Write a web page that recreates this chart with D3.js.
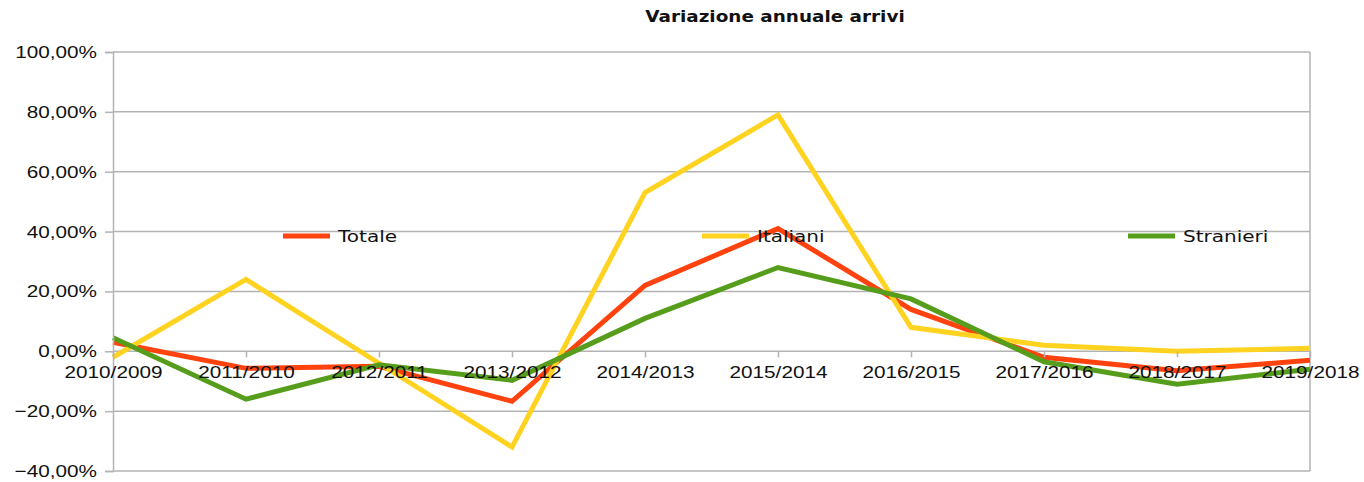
<!DOCTYPE html>
<html>
<head>
<meta charset="utf-8">
<script src="https://cdn.jsdelivr.net/npm/d3@7"></script>
<style>
  body { margin: 0; background: #fff; }
  .tick text { font-family: "Liberation Sans", Arial, sans-serif; }
</style>
</head>
<body>
<div id="chart"></div>
<script>
// anni a confronto
var categories = ["2010/2009", "2011/2010", "2012/2011", "2013/2012", "2014/2013",
                  "2015/2014", "2016/2015", "2017/2016", "2018/2017", "2019/2018"];
var totale    = [3.0, -5.7, -5.0, -16.7, 22.0, 41.0, 14.0, -2.0, -6.5, -3.0];
var italiani  = [-2.0, 24.0, -4.0, -32.0, 53.0, 79.0, 8.0, 2.0, 0.0, 1.0];
var stranieri = [4.5, -16.0, -4.5, -9.7, 11.0, 28.0, 17.5, -3.5, -11.0, -6.0];
var yTicks = [-40, -20, 0, 20, 40, 60, 80, 100];
var seriesNames = ["Totale", "Italiani", "Stranieri"];
var colors = ["#ff420e", "#ffd320", "#579d1c"];

var W = 1364, H = 482;
var margin = {top: 52, right: 54, bottom: 11, left: 113};
var width = W - margin.left - margin.right;
var height = H - margin.top - margin.bottom;
var sx = 1.22; // il grafico originale è stirato in orizzontale

var svg = d3.select("#chart").append("svg")
  .attr("width", W).attr("height", H);

var g = svg.append("g")
  .attr("transform", "translate(" + margin.left + "," + margin.top + ")");

var x = d3.scalePoint().domain(categories).range([0, width]);
var y = d3.scaleLinear().domain([-40, 100]).range([height, 0]);

// griglia orizzontale
g.selectAll(".grid").data(yTicks).enter().append("line")
  .attr("x1", 0).attr("x2", width)
  .attr("y1", function(d) { return y(d); })
  .attr("y2", function(d) { return y(d); })
  .attr("stroke", "#b3b3b3").attr("stroke-width", 1.5);

// bordo destro
g.append("line")
  .attr("x1", width).attr("x2", width).attr("y1", 0).attr("y2", height)
  .attr("stroke", "#b3b3b3").attr("stroke-width", 1.5);

// linee
var data = [totale, italiani, stranieri];
var line = d3.line()
  .x(function(d, i) { return x(categories[i]); })
  .y(function(d) { return y(d); });

g.selectAll(".serie").data(data).enter().append("path")
  .attr("d", line)
  .attr("fill", "none")
  .attr("stroke", function(d, i) { return colors[i]; })
  .attr("stroke-width", 5)
  .attr("stroke-linejoin", "miter");

// asse y
var yAxis = g.append("g")
  .call(d3.axisLeft(y).tickValues(yTicks).tickSize(8).tickPadding(8)
    .tickFormat(function(d) { return d3.format(".2f")(d).replace(".", ",") + "%"; }));
yAxis.select(".domain").attr("stroke", "#b3b3b3").attr("stroke-width", 1.5);
yAxis.selectAll(".tick line").attr("stroke", "#b3b3b3").attr("stroke-width", 1.5);
yAxis.selectAll(".tick text").attr("font-size", 17).attr("fill", "#111")
  .attr("x", -16 / sx)
  .attr("transform", "scale(" + sx + ",1)");

// asse x sulla linea dello zero
var xAxis = g.append("g")
  .attr("transform", "translate(0," + y(0) + ")")
  .call(d3.axisBottom(x).tickSize(6).tickPadding(8));
xAxis.select(".domain").remove();
xAxis.selectAll(".tick line").attr("stroke", "#b3b3b3").attr("stroke-width", 1.5);
xAxis.selectAll(".tick text").attr("font-size", 17).attr("fill", "#111")
  .attr("dy", "0.72em")
  .attr("transform", "scale(" + sx + ",1)");

// legenda
var legX = [283, 702, 1128];
var leg = svg.selectAll(".leg").data(seriesNames).enter().append("g")
  .attr("transform", function(d, i) { return "translate(" + legX[i] + ",236)"; });
leg.append("line")
  .attr("x1", 0).attr("x2", 47).attr("y1", 0).attr("y2", 0)
  .attr("stroke", function(d, i) { return colors[i]; })
  .attr("stroke-width", 5);
leg.append("text")
  .attr("x", 55 / 1.25).attr("y", 6)
  .attr("transform", "scale(1.25,1)")
  .attr("font-family", "DejaVu Sans, Verdana, sans-serif")
  .attr("font-size", 16)
  .attr("fill", "#111")
  .text(function(d) { return d; });

// titolo
svg.append("text")
  .attr("x", 775 / 1.15).attr("y", 22)
  .attr("transform", "scale(1.15,1)")
  .attr("text-anchor", "middle")
  .attr("font-family", "DejaVu Sans, Verdana, sans-serif")
  .attr("font-weight", "bold")
  .attr("font-size", 16)
  .attr("fill", "#111")
  .text("Variazione annuale arrivi");
</script>
</body>
</html>
